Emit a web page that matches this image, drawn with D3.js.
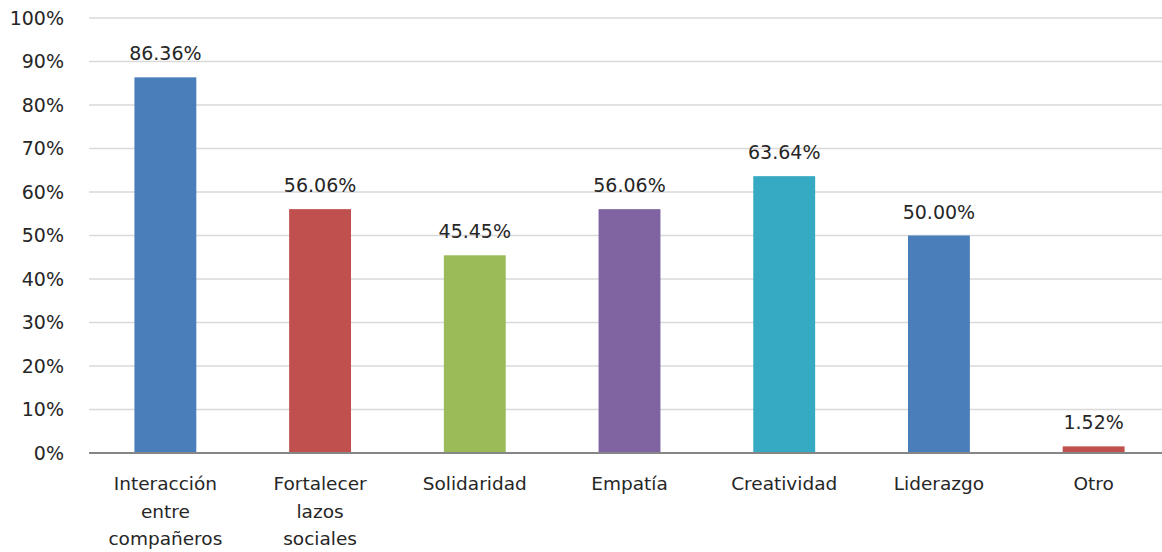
<!DOCTYPE html>
<html>
<head>
<meta charset="utf-8">
<script src="https://cdn.jsdelivr.net/npm/d3@7"></script>
<style>
	body { margin: 0; background: #fff; }
	svg text { font-family: "DejaVu Sans", sans-serif; fill: #262626; }
</style>
</head>
<body>
<svg id="chart" width="1162" height="552"></svg>
<script>
var categories = [
	["Interacción", "entre", "compañeros"],
	["Fortalecer", "lazos", "sociales"],
	["Solidaridad"],
	["Empatía"],
	["Creatividad"],
	["Liderazgo"],
	["Otro"]
];
var values = [86.36, 56.06, 45.45, 56.06, 63.64, 50.00, 1.52];
var barColors = ["#4a7ebb", "#c0504d", "#9bbb59", "#8064a2", "#36a9c3", "#4a7ebb", "#c0504d"];
var yTicks = [0, 10, 20, 30, 40, 50, 60, 70, 80, 90, 100];

var svg = d3.select("#chart");

var x = d3.scaleBand()
	.domain(d3.range(values.length))
	.range([88, 1171])
	.paddingInner(0.6)
	.paddingOuter(0.3);

var y = d3.scaleLinear()
	.domain([0, 100])
	.range([453, 18]);

// gridlines
svg.append("g")
	.selectAll("line")
	.data(yTicks.filter(function (d) { return d > 0; }))
	.enter().append("line")
	.attr("x1", 89).attr("x2", 1162)
	.attr("y1", function (d) { return y(d); })
	.attr("y2", function (d) { return y(d); })
	.attr("stroke", "#d9d9d9")
	.attr("stroke-width", 1.5);

// y labels
svg.append("g")
	.selectAll("text")
	.data(yTicks)
	.enter().append("text")
	.attr("x", 64)
	.attr("y", function (d) { return y(d); })
	.attr("dy", "0.35em")
	.attr("text-anchor", "end")
	.attr("font-size", 19)
	.text(function (d) { return d + "%"; });

// bars
svg.append("g")
	.selectAll("rect")
	.data(values)
	.enter().append("rect")
	.attr("x", function (d, i) { return x(i); })
	.attr("width", x.bandwidth())
	.attr("y", function (d) { return y(d); })
	.attr("height", function (d) { return y(0) - y(d); })
	.attr("fill", function (d, i) { return barColors[i]; });

// axis line
svg.append("line")
	.attr("x1", 89).attr("x2", 1162)
	.attr("y1", y(0)).attr("y2", y(0))
	.attr("stroke", "#868686")
	.attr("stroke-width", 2);

// value labels
svg.append("g")
	.selectAll("text")
	.data(values)
	.enter().append("text")
	.attr("x", function (d, i) { return x(i) + x.bandwidth() / 2; })
	.attr("y", function (d) { return y(d) - 17; })
	.attr("text-anchor", "middle")
	.attr("font-size", 19)
	.text(function (d) { return d.toFixed(2) + "%"; });

// category labels
var cat = svg.append("g")
	.selectAll("text")
	.data(categories)
	.enter().append("text")
	.attr("text-anchor", "middle")
	.attr("font-size", 18.5)
	.attr("x", function (d, i) { return x(i) + x.bandwidth() / 2; });

cat.selectAll("tspan")
	.data(function (d) { return d; })
	.enter().append("tspan")
	.attr("x", function () { return d3.select(this.parentNode).attr("x"); })
	.attr("y", function (d, j) { return 490 + j * 27.5; })
	.text(function (d) { return d; });
</script>
</body>
</html>
